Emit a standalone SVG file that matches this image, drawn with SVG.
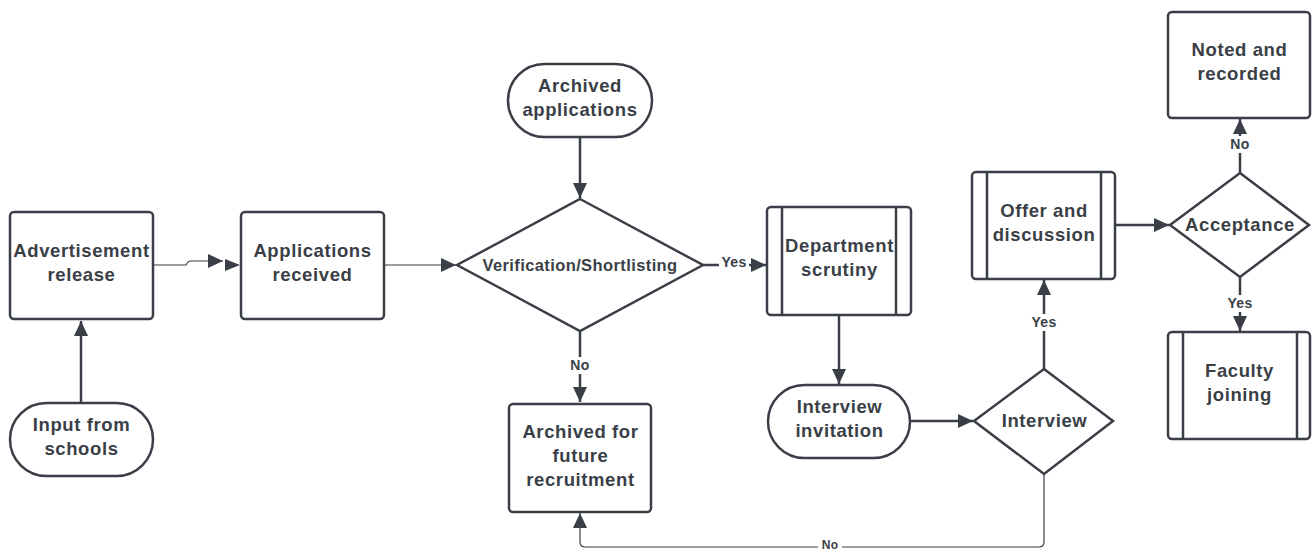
<svg xmlns="http://www.w3.org/2000/svg" width="1312" height="550" viewBox="0 0 1312 550">
<style>
.s{fill:#fff;stroke:#3a3f47;stroke-width:2.5}
.in{stroke:#3a3f47;stroke-width:2.5;fill:none}
.t{font-family:"Liberation Sans",Arial,sans-serif;font-weight:bold;font-size:18.5px;letter-spacing:0.6px;fill:#3a3f47;text-anchor:middle}
.ts{font-size:16.5px;letter-spacing:0.4px}
.c{stroke:#3a3f47;stroke-width:2.5;fill:none}
.thin{stroke:#3a3f47;stroke-width:1.2;fill:none}
.lb{font-family:"Liberation Sans",Arial,sans-serif;font-weight:bold;font-size:14px;letter-spacing:0.3px;fill:#3a3f47;text-anchor:middle}
.bg{fill:#fff}
</style>
<defs>
<marker id="a" markerUnits="userSpaceOnUse" markerWidth="16" markerHeight="14" refX="15" refY="7" orient="auto">
<path d="M0,0 L15,7 L0,14 Z" fill="#3a3f47"/>
</marker>
</defs>
<rect width="1312" height="550" fill="#fff"/>
<g id="connectors">
<path class="c" d="M81,403 V321" marker-end="url(#a)"/>
<path class="thin" d="M153,265 H186 Q188,261 191,261 H223" marker-end="url(#a)"/>
<path d="M225,259 L240,265 L225,271 Z" fill="#3a3f47"/>
<path class="thin" d="M384,265 H456" marker-end="url(#a)"/>
<path class="c" d="M580,137 V198" marker-end="url(#a)"/>
<path class="c" d="M703,265 H766" marker-end="url(#a)"/>
<path class="c" d="M580,331 V402" marker-end="url(#a)"/>
<path class="c" d="M839,315 V384" marker-end="url(#a)"/>
<path class="c" d="M910,421 H973" marker-end="url(#a)"/>
<path class="thin" d="M1044,474 V542 Q1044,547 1039,547 H585 Q580,547 580,542 V513" marker-end="url(#a)"/>
<path class="c" d="M1044,369 V280" marker-end="url(#a)"/>
<path class="c" d="M1115,225 H1169" marker-end="url(#a)"/>
<path class="c" d="M1240,173 V119" marker-end="url(#a)"/>
<path class="c" d="M1240,277 V331" marker-end="url(#a)"/>
<rect class="bg" x="719" y="255" width="30" height="17"/>
<text class="lb" x="734" y="267">Yes</text>
<rect class="bg" x="567" y="357" width="26" height="17"/>
<text class="lb" x="580" y="370">No</text>
<rect class="bg" x="818" y="538" width="24" height="12"/>
<text class="lb" x="830" y="549" style="font-size:12px">No</text>
<rect class="bg" x="1029" y="314" width="30" height="17"/>
<text class="lb" x="1044" y="327">Yes</text>
<rect class="bg" x="1227" y="136" width="26" height="17"/>
<text class="lb" x="1240" y="149">No</text>
<rect class="bg" x="1225" y="295" width="30" height="17"/>
<text class="lb" x="1240" y="308">Yes</text>
</g>
<g id="advertisement">
<rect class="s" x="10" y="212" width="143" height="107" rx="4"/>
<text class="t" x="81.5" y="257">Advertisement</text>
<text class="t" x="81.5" y="281">release</text>
</g>
<g id="input-schools">
<rect class="s" x="10" y="403" width="143" height="73" rx="36.5"/>
<text class="t" x="81.5" y="431">Input from</text>
<text class="t" x="81.5" y="455">schools</text>
</g>
<g id="applications">
<rect class="s" x="241" y="212" width="143" height="107" rx="4"/>
<text class="t" x="312.5" y="257">Applications</text>
<text class="t" x="312.5" y="281">received</text>
</g>
<g id="archived-applications">
<rect class="s" x="508" y="64" width="144" height="73" rx="36.5"/>
<text class="t" x="580" y="92">Archived</text>
<text class="t" x="580" y="116">applications</text>
</g>
<g id="verification">
<polygon class="s" points="580,199 703,265 580,331 457,265"/>
<text class="t ts" x="580" y="271">Verification/Shortlisting</text>
</g>
<g id="archived-future">
<rect class="s" x="509" y="404" width="142" height="108" rx="4"/>
<text class="t" x="580.5" y="438">Archived for</text>
<text class="t" x="580.5" y="462">future</text>
<text class="t" x="580.5" y="486">recruitment</text>
</g>
<g id="department">
<rect class="s" x="767" y="207" width="144" height="108" rx="4"/>
<line class="in" x1="782" y1="207" x2="782" y2="315"/>
<line class="in" x1="896" y1="207" x2="896" y2="315"/>
<text class="t" x="839.5" y="252">Department</text>
<text class="t" x="839.5" y="276">scrutiny</text>
</g>
<g id="interview-invitation">
<rect class="s" x="768" y="385" width="142" height="73" rx="36.5"/>
<text class="t" x="839.5" y="413">Interview</text>
<text class="t" x="839.5" y="437">invitation</text>
</g>
<g id="interview">
<polygon class="s" points="1044,369 1113,421 1044,474 974,421"/>
<text class="t" x="1044.5" y="427">Interview</text>
</g>
<g id="offer">
<rect class="s" x="972" y="172" width="143" height="107" rx="4"/>
<line class="in" x1="987" y1="172" x2="987" y2="279"/>
<line class="in" x1="1101" y1="172" x2="1101" y2="279"/>
<text class="t" x="1044" y="217">Offer and</text>
<text class="t" x="1044" y="241">discussion</text>
</g>
<g id="acceptance">
<polygon class="s" points="1240,173 1309,225 1240,277 1170,225"/>
<text class="t" x="1240" y="231">Acceptance</text>
</g>
<g id="noted">
<rect class="s" x="1168" y="12" width="142" height="106" rx="4"/>
<text class="t" x="1239.5" y="56">Noted and</text>
<text class="t" x="1239.5" y="80">recorded</text>
</g>
<g id="faculty">
<rect class="s" x="1168" y="332" width="142" height="107" rx="4"/>
<line class="in" x1="1183" y1="332" x2="1183" y2="439"/>
<line class="in" x1="1297" y1="332" x2="1297" y2="439"/>
<text class="t" x="1239.5" y="377">Faculty</text>
<text class="t" x="1239.5" y="401">joining</text>
</g>
</svg>
